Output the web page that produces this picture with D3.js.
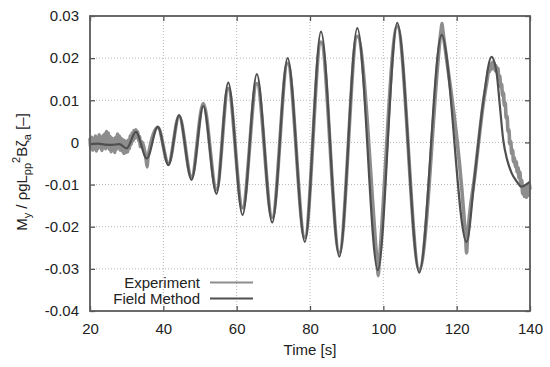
<!DOCTYPE html>
<html><head><meta charset="utf-8">
<script src="https://cdn.jsdelivr.net/npm/d3@7"></script>
<style>
html,body{margin:0;padding:0;background:#fff;}
svg text{font-family:"Liberation Sans",Arial,Helvetica,sans-serif;fill:#222;}
</style></head>
<body><svg id="chart" width="550" height="367"></svg>
<script>
// ---- data ----
const timeTicks = [20, 40, 60, 80, 100, 120, 140];
const valueTicks = [0.03, 0.02, 0.01, 0, -0.01, -0.02, -0.03, -0.04];
const valueTickLabels = ["0.03", "0.02", "0.01", "0", "-0.01", "-0.02", "-0.03", "-0.04"];
const seriesNames = ["Experiment", "Field Method"];

// Field Method (smooth) : time [s], value
const fieldTime = [20, 22, 24, 26, 28, 30, 32.5, 35.5, 38.5, 41.4, 44.3, 47.7, 50.9, 54.5, 57.7, 61.6, 65.5, 69.7, 73.9, 78.6, 83.0, 88.0, 92.9, 98.5, 103.8, 109.8, 115.9, 122.7, 125.0, 127.3, 129.5, 130.9, 131.8, 132.7, 133.8, 135.0, 136.4, 137.7, 139.4, 140];
const fieldValue = [-0.0004, -0.0003, -0.0005, -0.0006, -0.0004, -0.0014, 0.0025, -0.0038, 0.0037, -0.0054, 0.0065, -0.0089, 0.0086, -0.0122, 0.0142, -0.0172, 0.0162, -0.0190, 0.0200, -0.0236, 0.0263, -0.0271, 0.0271, -0.0303, 0.0284, -0.0309, 0.0255, -0.0236, -0.0073, 0.0101, 0.0203, 0.0164, 0.0085, 0.0006, -0.0042, -0.0073, -0.0093, -0.0105, -0.0097, -0.0093];

// Experiment (noisy) : time [s], value
const expTime = [
  20.00, 20.25, 20.50, 20.75, 21.00, 21.25, 21.50, 21.75, 22.00, 22.25, 22.50, 22.75,
  23.00, 23.25, 23.50, 23.75, 24.00, 24.25, 24.50, 24.75, 25.00, 25.25, 25.50, 25.75,
  26.00, 26.25, 26.50, 26.75, 27.00, 27.25, 27.50, 27.75, 28.00, 28.25, 28.50, 28.75,
  29.00, 29.25, 29.50, 29.75, 30.00, 30.25, 30.50, 30.75, 31.00, 31.25, 31.50, 31.75,
  32.00, 32.25, 32.50, 32.75, 33.00, 33.25, 33.50, 33.75, 34.00,
  35.3, 35.6, 35.8, 38.5, 41.4, 44.3, 47.7, 50.9, 54.5, 57.7, 61.6, 65.5, 69.7, 73.9,
  78.6, 83.0, 88.0, 92.9, 98.4, 98.6, 98.8, 103.8, 109.8, 115.8, 116.0, 116.2, 122.5, 122.7, 122.9, 125.0, 127.3,
  128.50, 128.75, 129.00, 129.25, 129.50, 129.75, 130.00, 130.25, 130.50, 130.75,
  131.00, 131.25, 131.50, 131.75, 132.00, 132.25, 132.50, 132.75, 133.00, 133.25,
  133.50, 133.75, 134.00, 134.25, 134.50, 134.75, 135.00, 135.25, 135.50, 135.75,
  136.00, 136.25, 136.50, 136.75, 137.00, 137.25, 137.50, 137.75, 138.00, 138.25,
  138.50, 138.75, 139.00, 139.25, 139.50, 139.75, 140.00];
const expValue = [
  0.0010, -0.0015, 0.0012, -0.0018, 0.0008, -0.0012, 0.0015, -0.0020, 0.0010, -0.0014, 0.0018, -0.0010,
  0.0012, -0.0019, 0.0016, -0.0012, 0.0020, -0.0015, 0.0026, -0.0008, 0.0022, -0.0016, 0.0014, -0.0022,
  0.0010, -0.0018, 0.0008, -0.0024, 0.0012, -0.0016, 0.0020, -0.0012, 0.0015, -0.0018, 0.0010, -0.0020,
  0.0006, -0.0026, 0.0004, -0.0024, 0.0002, -0.0022, 0.0006, -0.0014, 0.0016, -0.0004, 0.0022, 0.0004,
  0.0028, 0.0010, 0.0030, 0.0012, 0.0026, 0.0004, 0.0014, -0.0010, 0.0002,
  -0.0040, -0.0058, -0.0036, 0.0036, -0.0050, 0.0062, -0.0082, 0.0092, -0.0112, 0.0128, -0.0155, 0.0140, -0.0178, 0.0188,
  -0.0226, 0.0238, -0.0262, 0.0252, -0.0296, -0.0316, -0.0296, 0.0276, -0.0302, 0.0270, 0.0282, 0.0268, -0.0236, -0.0262, -0.0234, -0.0075, 0.0095,
  0.0160, 0.0176, 0.0168, 0.0186, 0.0174, 0.0190, 0.0176, 0.0188, 0.0170, 0.0182,
  0.0166, 0.0176, 0.0150, 0.0158, 0.0132, 0.0138, 0.0112, 0.0118, 0.0088, 0.0094,
  0.0058, 0.0062, 0.0026, 0.0030, -0.0004, 0.0002, -0.0026, -0.0018, -0.0046, -0.0036,
  -0.0058, -0.0046, -0.0070, -0.0060, -0.0084, -0.0070, -0.0104, -0.0090, -0.0122, -0.0104,
  -0.0128, -0.0106, -0.0130, -0.0104, -0.0126, -0.0098, -0.0112];

// ---- chart ----
const svg = d3.select("#chart");
const L = 90, R = 530, T = 16, B = 311;
const x = d3.scaleLinear().domain([20, 140]).range([L, R]);
const y = d3.scaleLinear().domain([-0.04, 0.03]).range([B, T]);

// grid
const grid = svg.append("g");
grid.selectAll("line.gx").data(timeTicks.slice(1, -1)).enter().append("line")
  .attr("x1", d => x(d)).attr("x2", d => x(d)).attr("y1", T).attr("y2", B)
  .attr("stroke", "#b8b8b8").attr("stroke-width", 1).attr("stroke-dasharray", "1,2");
grid.selectAll("line.gy").data(valueTicks.slice(1, -1)).enter().append("line")
  .attr("y1", d => y(d)).attr("y2", d => y(d)).attr("x1", L).attr("x2", R)
  .attr("stroke", "#b8b8b8").attr("stroke-width", 1).attr("stroke-dasharray", "1,2");

// axes with inward ticks
const axB = d3.axisBottom(x).tickValues(timeTicks).tickSize(-5).tickPadding(12).tickFormat(d3.format("d"));
const axL = d3.axisLeft(y).tickValues(valueTicks).tickSize(-5).tickPadding(11).tickFormat((d, i) => valueTickLabels[i]);
const axT = d3.axisTop(x).tickValues(timeTicks).tickSize(-5).tickFormat("");
const axR = d3.axisRight(y).tickValues(valueTicks).tickSize(-5).tickFormat("");
function styleAxis(g) {
  g.select(".domain").remove();
  g.selectAll(".tick line").attr("stroke", "#555").attr("stroke-width", 1.3);
  g.selectAll(".tick text").attr("font-size", 15).attr("fill", "#222")
    .attr("font-family", "Liberation Sans, Arial, sans-serif");
}
svg.append("g").attr("transform", `translate(0,${B})`).call(axB).call(styleAxis);
svg.append("g").attr("transform", `translate(${L},0)`).call(axL).call(styleAxis);
svg.append("g").attr("transform", `translate(0,${T})`).call(axT).call(styleAxis);
svg.append("g").attr("transform", `translate(${R},0)`).call(axR).call(styleAxis);

// series
const line = d3.line().x(d => x(d[0])).y(d => y(d[1])).curve(d3.curveMonotoneX);
const expData = expTime.map((t, i) => [t, expValue[i]]);
const fieldData = fieldTime.map((t, i) => [t, fieldValue[i]]);
svg.append("path").datum(expData).attr("d", line).attr("fill", "none")
  .attr("stroke", "#8d8d8d").attr("stroke-width", 3.6).attr("stroke-linejoin", "round");
svg.append("path").datum(fieldData).attr("d", line).attr("fill", "none")
  .attr("stroke", "#4f4f4f").attr("stroke-width", 2.2).attr("stroke-linejoin", "round");

// frame
svg.append("rect").attr("x", L).attr("y", T).attr("width", R - L).attr("height", B - T)
  .attr("fill", "none").attr("stroke", "#5a5a5a").attr("stroke-width", 1.8);

// legend
const legColors = ["#8d8d8d", "#4f4f4f"];
const legY = [282.5, 298.5];
seriesNames.forEach((n, i) => {
  svg.append("text").attr("x", 200).attr("y", legY[i] + 5.3).attr("text-anchor", "end")
    .attr("font-size", 15).text(n);
  svg.append("line").attr("x1", 210).attr("x2", 253).attr("y1", legY[i]).attr("y2", legY[i])
    .attr("stroke", legColors[i]).attr("stroke-width", 2.2);
});

// axis titles
svg.append("text").attr("x", 310).attr("y", 355).attr("text-anchor", "middle")
  .attr("font-size", 15).text("Time [s]");
const yt = svg.append("text").attr("transform", "translate(27,172) rotate(-90)")
  .attr("text-anchor", "middle").attr("font-size", 15);
yt.append("tspan").text("M");
yt.append("tspan").attr("font-size", 11).attr("dy", 4).text("y");
yt.append("tspan").attr("dy", -4).text(" / ρgL");
yt.append("tspan").attr("font-size", 11).attr("dy", 4).text("pp");
yt.append("tspan").attr("font-size", 11).attr("dy", -11).text("2");
yt.append("tspan").attr("dy", 7).text("Bζ");
yt.append("tspan").attr("font-size", 11).attr("dy", 4).text("a");
yt.append("tspan").attr("dy", -4).text(" [–]");
</script></body></html>
